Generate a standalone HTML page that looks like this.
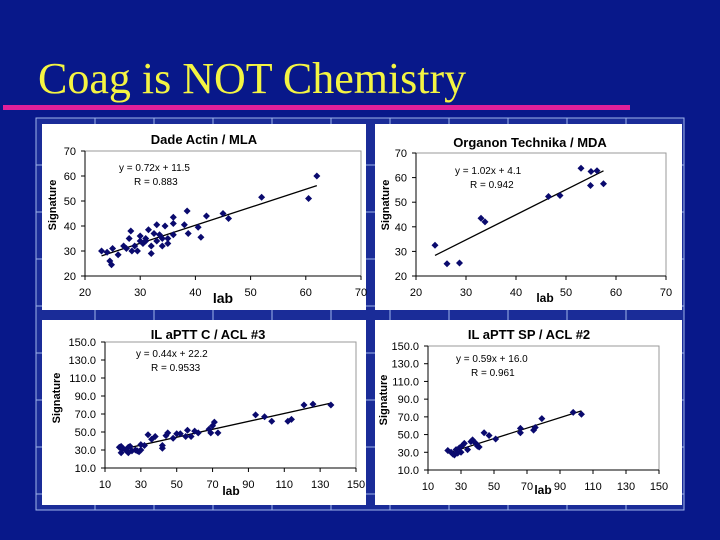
<!DOCTYPE html>
<html><head><meta charset="utf-8"><style>
body{margin:0;width:720px;height:540px;background:#08188a;overflow:hidden;position:relative;font-family:"Liberation Sans",Arial,sans-serif}
#title{position:absolute;left:38px;top:53px;font-family:"Liberation Serif",serif;font-size:44px;color:#f4f442;white-space:nowrap}
#rule{position:absolute;left:3px;top:105px;width:627px;height:5px;background:#e0209a}
svg{position:absolute;left:0;top:0}
</style></head><body>
<div id="title">Coag is NOT Chemistry</div>
<div id="rule"></div>
<svg id="s" width="720" height="540"></svg>
<script>
// Panel 1: Dade Actin / MLA
const p1X=[23,24,24.5,24.8,25,26,27,27.5,28,28.3,28.5,29,29.5,30,30,30.5,31,31,31.5,32,32,32.5,33,33,33.5,34,34,34.5,35,35,36,36,36,38,38.5,38.7,40.5,41,42,45,46,52,60.5,62];
const p1Y=[30,29.5,26,24.5,31,28.5,32,31,35,38,30,32,30,34,36,33,34,35,38.5,32,29,37,40.5,34,36.5,32,35,40,33,35,43.5,41,36.5,40.5,46,37,39.5,35.5,44,45,43,51.5,51,60];
const p1Fit=[0.72,11.5];
const p1XTicks=[20,30,40,50,60,70];
const p1YTicks=[20,30,40,50,60,70];
// Panel 2: Organon Technika / MDA
const p2X=[23.8,26.2,28.7,33,33.8,46.5,48.8,53,55,56.2,54.9,57.5];
const p2Y=[32.5,25,25.3,43.5,42,52.3,52.7,63.8,62.5,62.8,56.8,57.5];
const p2Fit=[1.02,4.1];
const p2XTicks=[20,30,40,50,60,70];
const p2YTicks=[20,30,40,50,60,70];
// Panel 3: IL aPTT C / ACL #3
const p3X=[18,19,19,20,22,23,23,24,25,27,28,29,30,32,30,34,36,38,42,42,44,45,48,50,52,55,56,58,60,62,68,69,70,71,73,94,99,103,112,114,121,126,136];
const p3Y=[33,27,34,32,29,27,33,34,29,30,29,28,30,35,36,47,42,45,35,32,46,49,43,48,48,45,52,45,51,49,53,49,57,61,49,69,67,62,62,64,80,81,80];
const p3Fit=[0.44,22.2];
const p3XTicks=[10,30,50,70,90,110,130,150];
const p3YTicks=[10,30,50,70,90,110,130,150];
// Panel 4: IL aPTT SP / ACL #2
const p4X=[22,24,25,26,27,28,29,30,31,32,34,36,37,39,40,41,44,47,51,66,66,74,75,79,98,103];
const p4Y=[32,30,28,27,33,29,35,30,38,40,33,42,44,40,37,36,52,49,45,52,57,55,58,68,75,73];
const p4Fit=[0.59,16.0];
const p4XTicks=[10,30,50,70,90,110,130,150];
const p4YTicks=[10,30,50,70,90,110,130,150];

const NS="http://www.w3.org/2000/svg";
const s=document.getElementById('s');
function mk(tag,attrs,parent){const e=document.createElementNS(NS,tag);for(const k in attrs)e.setAttribute(k,attrs[k]);(parent||s).appendChild(e);return e;}
function txt(str,attrs,parent){const e=mk('text',attrs,parent);e.textContent=str;return e;}

const bg=mk('rect',{x:36,y:118,width:648,height:392,fill:'#1a2c98',stroke:'#9fb4ea','stroke-width':1});


for(let x=36+59;x<684;x+=59){const l=mk('line',{x1:x,y1:118,x2:x,y2:510,stroke:'#9fb4ea','stroke-width':1});}
for(let y=118+47;y<510;y+=47){const l=mk('line',{x1:36,y1:y,x2:684,y2:y,stroke:'#9fb4ea','stroke-width':1});}

function panel(cfg){
  const g=mk('g',{});
  
  
  const w=mk('rect',{x:cfg.box[0],y:cfg.box[1],width:cfg.box[2],height:cfg.box[3],fill:'#fff'},g);
  
  
  const [L,R,T,B]=cfg.plot;
  const xt=cfg.xt, yt=cfg.yt;
  const xmin=xt[0],xmax=xt[xt.length-1],ymin=yt[0],ymax=yt[yt.length-1];
  const sx=v=>L+(v-xmin)/(xmax-xmin)*(R-L);
  const sy=v=>B-(v-ymin)/(ymax-ymin)*(B-T);
  const pa=mk('rect',{x:L,y:T,width:R-L,height:B-T,fill:'none',stroke:'#999','stroke-width':1},g);
  
  
  mk('line',{x1:L,y1:T,x2:L,y2:B,stroke:'#000'},g);
  mk('line',{x1:L,y1:B,x2:R,y2:B,stroke:'#000'},g);
  xt.forEach(v=>{
    mk('line',{x1:sx(v),y1:B,x2:sx(v),y2:B+4,stroke:'#000'},g);
    const t=txt(String(v),{x:sx(v),y:B+20,'font-size':11,'text-anchor':'middle',fill:'#000'},g);
    
    
  });
  yt.forEach(v=>{
    mk('line',{x1:L-4,y1:sy(v),x2:L,y2:sy(v),stroke:'#000'},g);
    const t=txt(cfg.dec?v.toFixed(1):String(v),{x:L-9,y:sy(v)+4,'font-size':11,'text-anchor':'end',fill:'#000'},g);
    
    
  });
  const xs=cfg.x,ys=cfg.y;
  const x0=Math.min(...xs),x1=Math.max(...xs);
  const fl=mk('line',{x1:sx(x0),y1:sy(cfg.fit[0]*x0+cfg.fit[1]),x2:sx(x1),y2:sy(cfg.fit[0]*x1+cfg.fit[1]),stroke:'#000','stroke-width':1.3},g);
  
  
  xs.forEach((v,i)=>{
    const cx=sx(v),cy=sy(ys[i]);
    const p=mk('path',{d:`M${cx} ${cy-3.5}L${cx+3.5} ${cy}L${cx} ${cy+3.5}L${cx-3.5} ${cy}Z`,fill:'#0a0a6e'},g);
    
    
  });
  const ti=txt(cfg.title,{x:cfg.titlePos[0],y:cfg.titlePos[1],'font-size':13,'font-weight':'bold','text-anchor':'middle',fill:'#000'},g);
  
  
  const e1=txt(cfg.eq[0],{x:cfg.eqPos[0],y:cfg.eqPos[1],'font-size':10,fill:'#000'},g);
  
  
  const e2=txt(cfg.eq[1],{x:cfg.eqPos[0]+15,y:cfg.eqPos[1]+14,'font-size':10,fill:'#000'},g);
  
  
  const yl=txt('Signature',{x:0,y:0,'font-size':11,'font-weight':'bold','text-anchor':'middle',fill:'#000',transform:`translate(${cfg.ylab[0]},${cfg.ylab[1]}) rotate(-90)`},g);
  
  
  const xl=txt('lab',{x:cfg.xlab[0],y:cfg.xlab[1],'font-size':cfg.xlabSize,'font-weight':'bold','text-anchor':'middle',fill:'#000'},g);
  
  
}

panel({name:'chart-dade-actin',box:[42,124,324,186],plot:[85,361,151,276],xt:p1XTicks,yt:p1YTicks,x:p1X,y:p1Y,fit:p1Fit,
  title:'Dade Actin / MLA',titlePos:[204,144],eq:['y = 0.72x + 11.5','R = 0.883'],eqPos:[119,171],ylab:[56,205],xlab:[223,303],xlabSize:14});
panel({name:'chart-organon-technika',box:[375,124,307,186],plot:[416,666,153,276],xt:p2XTicks,yt:p2YTicks,x:p2X,y:p2Y,fit:p2Fit,
  title:'Organon Technika / MDA',titlePos:[530,147],eq:['y = 1.02x + 4.1','R = 0.942'],eqPos:[455,174],ylab:[389,205],xlab:[545,302],xlabSize:12});
panel({name:'chart-il-aptt-c',box:[42,320,324,185],plot:[105,356,342,468],xt:p3XTicks,yt:p3YTicks,x:p3X,y:p3Y,fit:p3Fit,dec:true,
  title:'IL aPTT C / ACL #3',titlePos:[208,339],eq:['y = 0.44x + 22.2','R = 0.9533'],eqPos:[136,357],ylab:[60,398],xlab:[231,495],xlabSize:12});
panel({name:'chart-il-aptt-sp',box:[375,320,307,185],plot:[428,659,346,470],xt:p4XTicks,yt:p4YTicks,x:p4X,y:p4Y,fit:p4Fit,dec:true,
  title:'IL aPTT SP / ACL #2',titlePos:[529,339],eq:['y = 0.59x + 16.0','R = 0.961'],eqPos:[456,362],ylab:[387,400],xlab:[543,494],xlabSize:12});
</script>
</body></html>
